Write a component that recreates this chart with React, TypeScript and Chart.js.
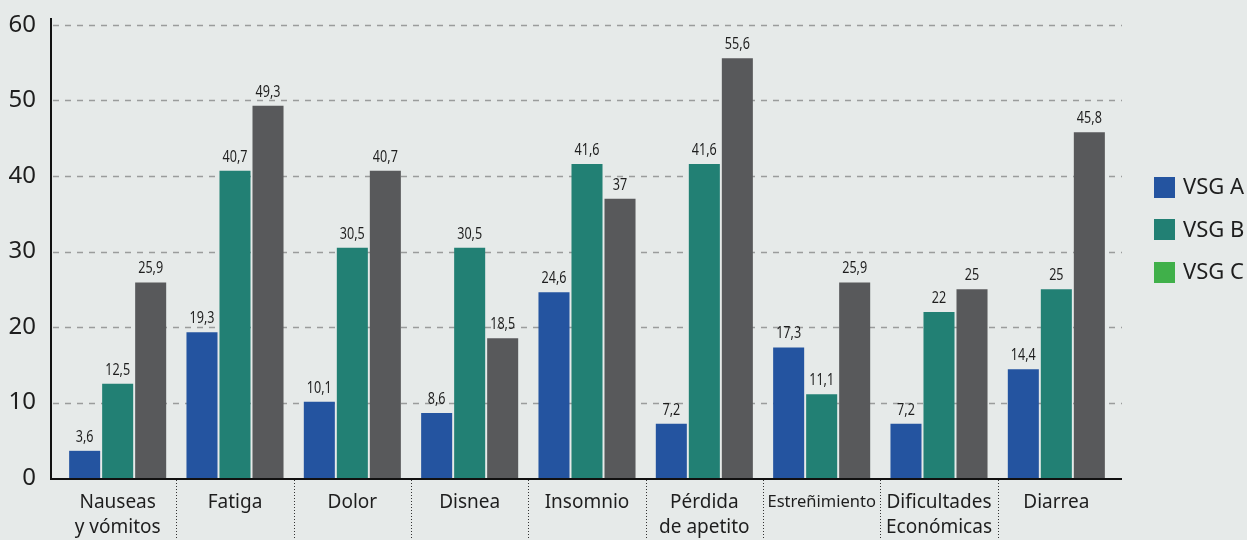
import React, { useEffect, useRef } from "react";
import { Chart, registerables } from "chart.js";

Chart.register(...registerables);

const categories: (string | string[])[] = [
  ["Nauseas", "y vómitos"],
  "Fatiga",
  "Dolor",
  "Disnea",
  "Insomnio",
  ["Pérdida", "de apetito"],
  "Estreñimiento",
  ["Dificultades", "Económicas"],
  "Diarrea",
];
const seriesNames = ["VSG A", "VSG B", "VSG C"];
const vsgA = [3.6, 19.3, 10.1, 8.6, 24.6, 7.2, 17.3, 7.2, 14.4];
const vsgB = [12.5, 40.7, 30.5, 30.5, 41.6, 41.6, 11.1, 22, 25];
const vsgC = [25.9, 49.3, 40.7, 18.5, 37, 55.6, 25.9, 25, 45.8];
const yTicks = [0, 10, 20, 30, 40, 50, 60];

const BG = "#e6eae9";
const barColors = ["#2454a0", "#228074", "#58595b"];
const legendColors = ["#2454a0", "#228074", "#40b04a"];
const TEXT = "#1e1e1e";
const FONT = "'Noto Sans', 'Open Sans', sans-serif";

const decorPlugin = {
  id: "decor",
  beforeDraw(chart: any) {
    const { ctx, width, height } = chart;
    ctx.save();
    ctx.fillStyle = BG;
    ctx.fillRect(0, 0, width, height);
    ctx.restore();
  },
  beforeDatasetsDraw(chart: any) {
    const { ctx, chartArea, scales } = chart;
    const y = scales.y;
    const x = scales.x;
    const left = chartArea.left - 8;
    const right = chartArea.right + 7;
    ctx.save();
    // dashed grid
    ctx.strokeStyle = "#9a9c9c";
    ctx.lineWidth = 1.5;
    ctx.setLineDash([6, 6]);
    yTicks.forEach((t) => {
      if (t === 0) return;
      const py = Math.round(y.getPixelForValue(t)) + 0.5;
      ctx.beginPath();
      ctx.moveTo(left + 2, py);
      ctx.lineTo(right, py);
      ctx.stroke();
    });
    // dotted category dividers
    ctx.setLineDash([1, 2]);
    ctx.strokeStyle = "#333";
    ctx.lineWidth = 1;
    const bottom = chartArea.bottom;
    for (let i = 0; i < categories.length - 1; i++) {
      const px = Math.round((x.getPixelForValue(i) + x.getPixelForValue(i + 1)) / 2) + 0.5;
      ctx.beginPath();
      ctx.moveTo(px, bottom + 2);
      ctx.lineTo(px, chart.height);
      ctx.stroke();
    }
    // axes
    ctx.setLineDash([]);
    ctx.strokeStyle = "#111";
    ctx.lineWidth = 2;
    ctx.beginPath();
    ctx.moveTo(left, chartArea.top - 7);
    ctx.lineTo(left, bottom + 1);
    ctx.lineTo(right, bottom + 1);
    ctx.stroke();
    ctx.restore();
  },
  afterDatasetsDraw(chart: any) {
    const { ctx } = chart;
    ctx.save();
    ctx.fillStyle = TEXT;
    ctx.font = `17px ${FONT}`;
    ctx.textAlign = "center";
    ctx.textBaseline = "alphabetic";
    chart.data.datasets.forEach((ds: any, di: number) => {
      const meta = chart.getDatasetMeta(di);
      meta.data.forEach((bar: any, i: number) => {
        const v = ds.data[i];
        ctx.save();
        ctx.translate(bar.x, bar.y - 9);
        ctx.scale(0.74, 1);
        ctx.fillText(String(v).replace(".", ","), 0, 0);
        ctx.restore();
      });
    });
    ctx.restore();
  },
  afterDraw(chart: any) {
    const { ctx, chartArea } = chart;
    ctx.save();
    const x0 = chartArea.right + 39;
    const y0 = 187;
    const step = 42.5;
    ctx.font = `22px ${FONT}`;
    ctx.textAlign = "left";
    ctx.textBaseline = "middle";
    chart.data.datasets.forEach((ds: any, i: number) => {
      const cy = y0 + i * step;
      ctx.fillStyle = legendColors[i];
      ctx.fillRect(x0, Math.round(cy - 10.5), 21, 21);
      ctx.fillStyle = TEXT;
      ctx.fillText(ds.label, x0 + 29, cy + 1);
    });
    ctx.restore();
  },
};

export default function App() {
  const ref = useRef<HTMLCanvasElement | null>(null);
  useEffect(() => {
    document.body.style.margin = "0";
    document.body.style.background = BG;
    const canvas = ref.current;
    if (!canvas) return;
    const chart = new Chart(canvas, {
      type: "bar",
      data: {
        labels: categories as any,
        datasets: [vsgA, vsgB, vsgC].map((d, i) => ({
          label: seriesNames[i],
          data: d,
          backgroundColor: barColors[i],
          borderWidth: 0,
          categoryPercentage: 0.844,
          barPercentage: 0.94,
        })),
      },
      options: {
        responsive: false,
        animation: false,
        devicePixelRatio: 1,
        layout: { padding: { top: 25, right: 132, left: 0, bottom: 0 } },
        plugins: {
          legend: { display: false },
          tooltip: { enabled: false },
        },
        scales: {
          x: {
            grid: { display: false, drawTicks: false },
            border: { display: false },
            ticks: {
              color: TEXT,
              padding: 12,
              maxRotation: 0,
              autoSkip: false,
              font: (c: any) =>
                c.index === 6
                  ? { family: FONT, size: 16.5, lineHeight: "25px" }
                  : { family: FONT, size: 19, lineHeight: "25px" },
            },
            afterFit: (s: any) => {
              s.height = 62;
              s.paddingTop = 0;
              s.paddingBottom = 0;
            },
          },
          y: {
            min: 0,
            max: 60,
            grid: { display: false, drawTicks: false },
            border: { display: false },
            ticks: {
              stepSize: 10,
              color: TEXT,
              padding: 23,
              font: { family: FONT, size: 24 },
            },
            afterFit: (s: any) => {
              s.width = 59;
              s.paddingTop = 0;
              s.paddingBottom = 0;
            },
          },
        },
      },
      plugins: [decorPlugin],
    });
    return () => chart.destroy();
  }, []);
  return (
    <canvas ref={ref} width={1247} height={540} style={{ display: "block" }} />
  );
}
